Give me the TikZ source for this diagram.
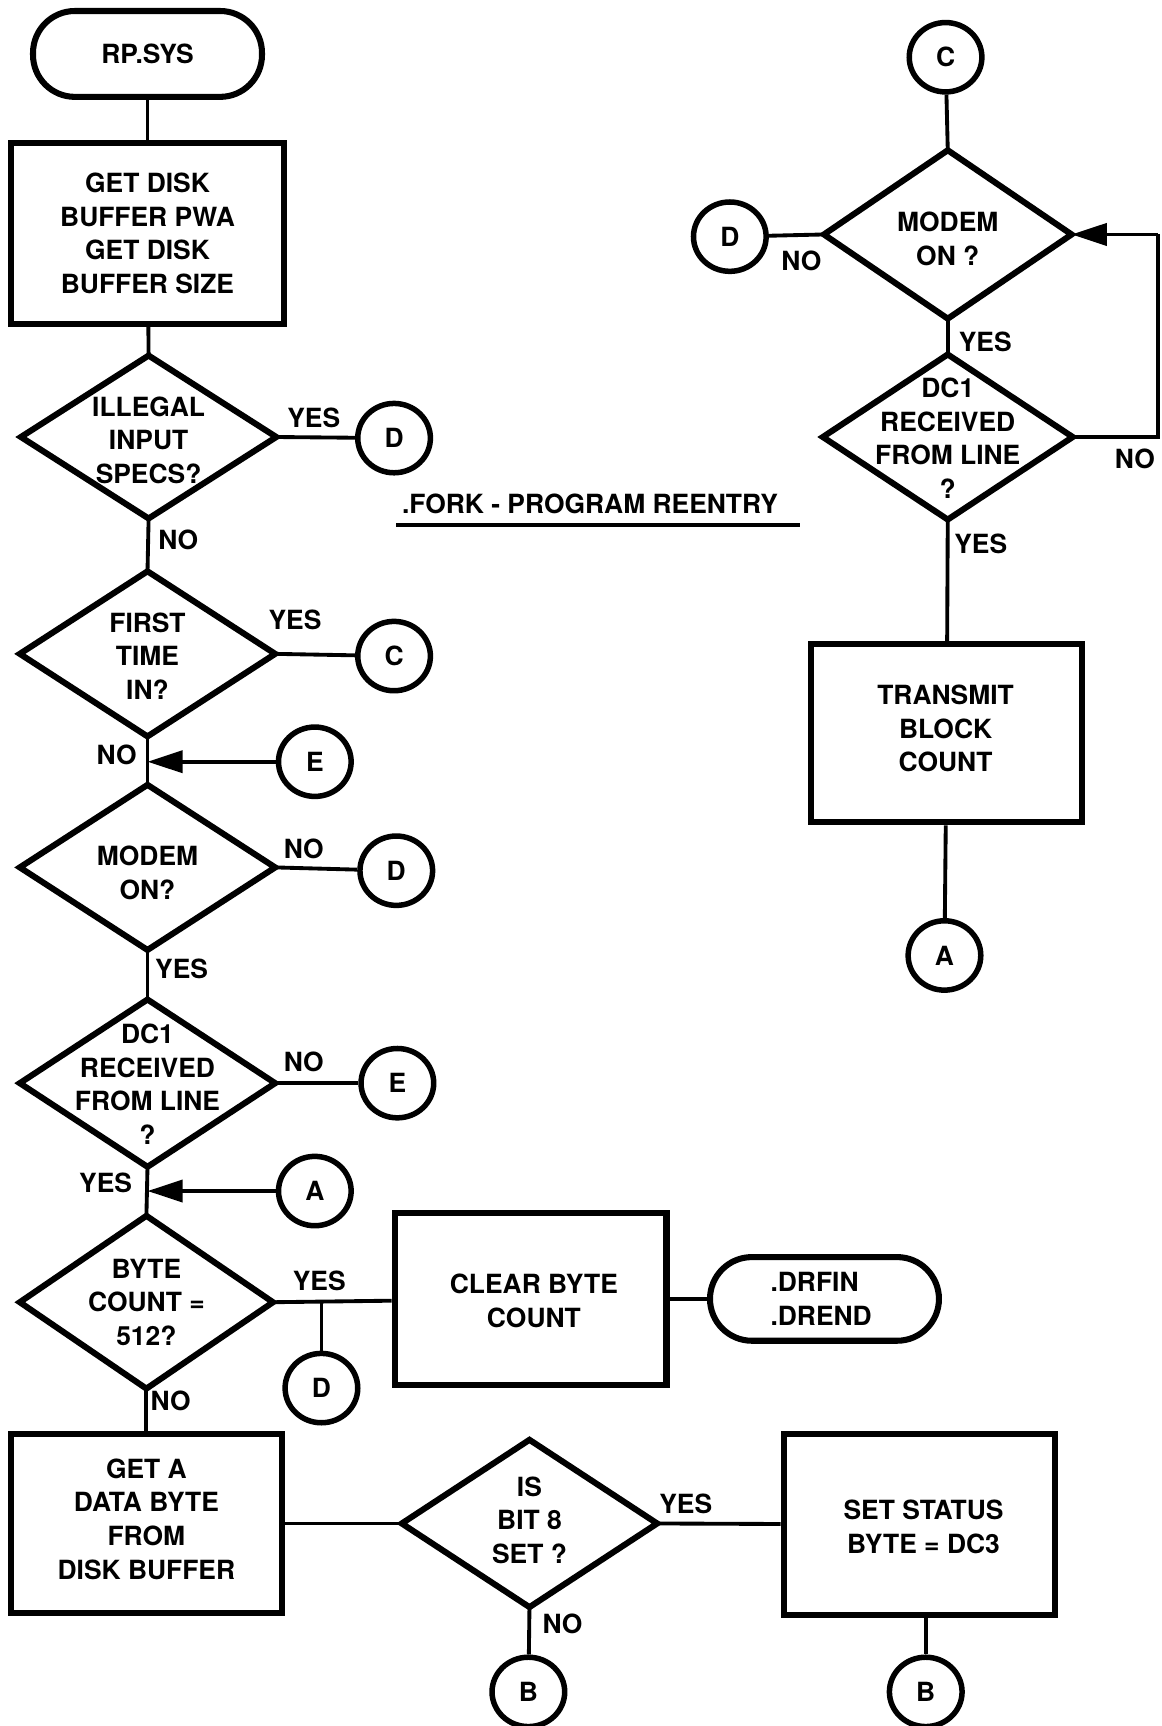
\documentclass[tikz,border=0pt]{standalone}
\usepackage{fontspec}
\setmainfont{TeX Gyre Heros}
\usetikzlibrary{shapes.geometric,arrows.meta}
\begin{document}
\begin{tikzpicture}[x=1pt,y=-1pt,
  txt/.style={font=\bfseries\fontsize{24}{30.5}\selectfont, align=center, inner sep=0pt},
  boxst/.style={draw, line width=5.5pt, rectangle, txt},
  termst/.style={draw, line width=5.5pt, rectangle, rounded corners=38pt, txt},
  diast/.style={draw, line width=5.5pt, diamond, inner sep=0pt, outer sep=0pt},
  circst/.style={draw, line width=5pt, ellipse, minimum width=66pt, minimum height=63pt, txt},
  conn/.style={line width=3.5pt},
  arr/.style={conn, -{Triangle[length=32pt,width=20pt]}},
  lbl/.style={txt}
]
\fill[white] (0,0) rectangle (1055,1568);
\useasboundingbox (0,0) rectangle (1055,1568);

% ---------- left column ----------
\node[termst, minimum width=208pt, minimum height=78pt] (rpsys) at (134,49) {RP.SYS};
\node[boxst, minimum width=248pt, minimum height=165pt] (getdisk) at (134,212) {GET DISK\\BUFFER PWA\\GET DISK\\BUFFER SIZE};

\node[diast, minimum width=232pt, minimum height=148pt] (d1) at (135,397) {};
\node[txt] (t1) at (135,400) {ILLEGAL\\INPUT\\SPECS?};
\node[circst] (cD1) at (358,398) {D};

\node[diast, minimum width=232pt, minimum height=150pt] (d2) at (134,594) {};
\node[txt] (t2) at (134,596) {FIRST\\TIME\\IN?};
\node[circst] (cC1) at (358,596) {C};
\node[circst] (cE1) at (286,692) {E};

\node[diast, minimum width=232pt, minimum height=150pt] (d3) at (134,788) {};
\node[txt] (t3) at (134,793) {MODEM\\ON?};
\node[circst] (cD2) at (360,791) {D};

\node[diast, minimum width=232pt, minimum height=152pt] (d4) at (134,984) {};
\node[txt] (t4) at (134,985) {DC1\\RECEIVED\\FROM LINE\\?};
\node[circst] (cE2) at (361,984) {E};
\node[circst] (cA1) at (286,1082) {A};

\node[diast, minimum width=230pt, minimum height=157pt] (d5) at (133,1183) {};
\node[txt] (t5) at (133,1183) {BYTE\\COUNT =\\512?};
\node[circst] (cD3) at (292,1261) {D};

\node[boxst, minimum width=247pt, minimum height=156pt] (clear) at (482,1180) {};
\node[txt] (tclear) at (485,1182) {CLEAR BYTE\\COUNT};
\node[termst, minimum width=208pt, minimum height=76pt] (drfin) at (749,1180) {};
\node[txt, align=left] (tdrfin) at (746,1180) {.DRFIN\\.DREND};

\node[boxst, minimum width=246pt, minimum height=162pt] (geta) at (133,1384) {};
\node[txt] (tgeta) at (133,1380) {GET A\\DATA BYTE\\FROM\\DISK BUFFER};

\node[diast, minimum width=232pt, minimum height=152pt] (d6) at (481,1384) {};
\node[txt] (t6) at (481,1381) {IS\\BIT 8\\SET ?};

\node[boxst, minimum width=246pt, minimum height=165pt] (setst) at (835,1385) {};
\node[txt] (tsetst) at (839,1387) {SET STATUS\\BYTE = DC3};

\node[circst] (cB1) at (480,1537) {B};
\node[circst] (cB2) at (841,1537) {B};

% ---------- right column ----------
\node[circst] (cC2) at (859,52) {C};
\node[diast, minimum width=225pt, minimum height=153pt] (d7) at (861,213) {};
\node[txt] (t7) at (861,217) {MODEM\\ON ?};
\node[circst] (cD4) at (663,215) {D};

\node[diast, minimum width=227pt, minimum height=150pt] (d8) at (861,397) {};
\node[txt] (t8) at (861,398) {DC1\\RECEIVED\\FROM LINE\\?};

\node[boxst, minimum width=246pt, minimum height=162pt] (trans) at (860,666) {};
\node[txt] (ttrans) at (859,662) {TRANSMIT\\BLOCK\\COUNT};
\node[circst] (cA2) at (858,868) {A};

% ---------- title ----------
\node[txt] (fork) at (536,458) {.FORK - PROGRAM REENTRY};
\coordinate (ulL) at (360,477);
\coordinate (ulR) at (727,477);
\draw[conn] (ulL) -- (ulR);

% ---------- connectors, left ----------
\draw[conn] (rpsys) -- (getdisk);
\draw[conn] (getdisk) -- (d1.north);
\draw[conn] (d1.east) -- (cD1);
\draw[conn] (d1.south) -- (d2.north);
\draw[conn] (d2.east) -- (cC1);
\draw[conn] (d2.south) -- (d3.north);
\coordinate (jE) at (d2.south |- cE1);
\draw[arr] (cE1) -- (jE);
\draw[conn] (d3.east) -- (cD2);
\draw[conn] (d3.south) -- (d4.north);
\draw[conn] (d4.east) -- (cE2);
\draw[conn] (d4.south) -- (d5.north);
\coordinate (jA) at (d4.south |- cA1);
\draw[arr] (cA1) -- (jA);
\draw[conn] (d5.east) -- (clear);
\coordinate (jD) at (cD3 |- d5.east);
\draw[conn] (jD) -- (cD3);
\draw[conn] (clear) -- (drfin);
\draw[conn] (d5.south) -- (geta);
\draw[conn] (geta) -- (d6.west);
\draw[conn] (d6.east) -- (setst);
\draw[conn] (d6.south) -- (cB1);
\coordinate (jS) at (cB2 |- setst.south);
\draw[conn] (jS) -- (cB2);

% ---------- connectors, right ----------
\draw[conn] (cC2) -- (d7.north);
\draw[conn] (d7.west) -- (cD4);
\draw[conn] (d7.south) -- (d8.north);
\coordinate (lp1) at (1052,397);
\coordinate (lp2) at (1052,213);
\draw[conn] (d8.east) -- (lp1) -- (lp2);
\draw[arr] (lp2) -- (d7.east);
\draw[conn] (d8.south) -- (trans);
\draw[conn] (trans) -- (cA2);

% ---------- labels ----------
\node[lbl] (l1) at (285,380) {YES};
\node[lbl] (l2) at (162,490) {NO};
\node[lbl] (l3) at (268,563) {YES};
\node[lbl] (l4) at (106,686) {NO};
\node[lbl] (l5) at (276,771) {NO};
\node[lbl] (l6) at (165,880) {YES};
\node[lbl] (l7) at (276,965) {NO};
\node[lbl] (l8) at (96,1075) {YES};
\node[lbl] (l9) at (290,1164) {YES};
\node[lbl] (l10) at (155,1273) {NO};
\node[lbl] (l11) at (623,1366) {YES};
\node[lbl] (l12) at (511,1475) {NO};
\node[lbl] (l13) at (728,237) {NO};
\node[lbl] (l14) at (895,311) {YES};
\node[lbl] (l15) at (1031,417) {NO};
\node[lbl] (l16) at (891,494) {YES};
\end{tikzpicture}
\end{document}
